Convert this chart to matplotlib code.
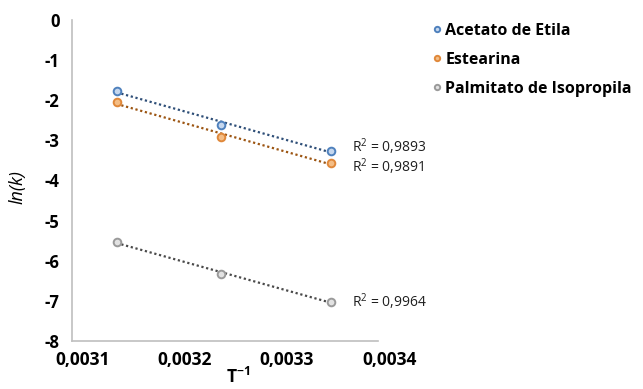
import numpy as np
import matplotlib
matplotlib.use("Agg")
from matplotlib import pyplot as plt
from matplotlib import transforms

# inverse temperature (1/K) and ln(k) for each oil
inv_T = [0.0031437, 0.0032457, 0.0033540]
acetato = [-1.76, -2.62, -3.26]
estearina = [-2.05, -2.91, -3.56]
palmitato = [-5.53, -6.33, -7.02]

names = ['Acetato de Etila', 'Estearina', 'Palmitato de Isopropila']
r2_text = ['R$^2$ = 0,9893', 'R$^2$ = 0,9891', 'R$^2$ = 0,9964']
x_ticks = [0.0031, 0.0032, 0.0033, 0.0034]
x_tick_labels = ['0,0031', '0,0032', '0,0033', '0,0034']
y_ticks = [0, -1, -2, -3, -4, -5, -6, -7, -8]

edge_cols = ['#4f81bd', '#e0883a', '#9a9a9a']
fill_cols = ['#c5d7ee', '#f4bd85', '#e2e2e2']
line_cols = ['#2f4f78', '#9c5512', '#4a4a4a']
r2_offset = [(0, 3), (0, -3), (0, 0)]

plt.rcParams['font.family'] = ['Open Sans', 'DejaVu Sans']
plt.rcParams['mathtext.fontset'] = 'custom'
plt.rcParams['mathtext.rm'] = 'Open Sans'
plt.rcParams['mathtext.bf'] = 'Open Sans:bold'

fig = plt.figure(figsize=(6.43, 3.89), dpi=100)
ax = fig.add_axes([0.112, 0.123, 0.476, 0.826])

series = [acetato, estearina, palmitato]
x = np.array(inv_T)
for i in range(3):
    y = np.array(series[i])
    # linear trendline like the spreadsheet
    m, b = np.polyfit(x, y, 1)
    ax.plot(x, m * x + b, linestyle=(0, (1, 1.2)), color=line_cols[i], lw=1.6, zorder=2)
    ax.plot(x, y, 'o', ms=5.5, mfc=fill_cols[i], mec=edge_cols[i], mew=1.4,
            label=names[i], zorder=3)
    ax.annotate(r2_text[i], xy=(x[-1], y[-1]), xytext=(15 + r2_offset[i][0], r2_offset[i][1]),
                textcoords='offset points', fontsize=10, va='center', ha='left',
                color='#202020')

ax.set_xlim(0.0031, 0.0034)
ax.set_ylim(-8, 0)
ax.set_xticks(x_ticks)
ax.set_xticklabels(x_tick_labels, fontsize=12.5, fontweight='bold')
ax.set_yticks(y_ticks)
ax.set_yticklabels([str(v) for v in y_ticks], fontsize=12, fontweight='bold')
ax.tick_params(length=0, pad=7)
ax.tick_params(axis='y', pad=9)

# spreadsheet draws the x labels a bit right of the gridpoints
shift = transforms.ScaledTranslation(11 / 100, 0, fig.dpi_scale_trans)
for lab in ax.get_xticklabels():
    lab.set_transform(lab.get_transform() + shift)

for s in ['top', 'right']:
    ax.spines[s].set_visible(False)
for s in ['left', 'bottom']:
    ax.spines[s].set_color('#bfbfbf')
    ax.spines[s].set_linewidth(1.2)

ax.set_ylabel('ln(k)', fontsize=13, style='italic')
ax.yaxis.set_label_coords(-0.15, 0.48)
fig.text(0.37, 0.032, r'$\mathbf{T}^{\mathbf{-1}}$', fontsize=12.5, ha='center', va='center')

ax.legend(loc='upper left', bbox_to_anchor=(1.12, 1.035), frameon=False,
          prop={'size': 11.5, 'weight': 'bold'}, handletextpad=0.0,
          handlelength=1.0, markerscale=0.7, labelspacing=0.8)

plt.savefig('out.png', dpi=100)
